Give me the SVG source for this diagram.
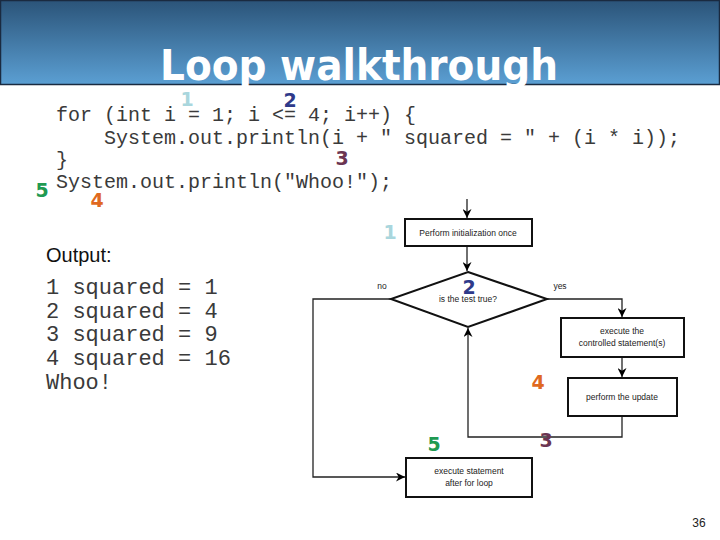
<svg xmlns="http://www.w3.org/2000/svg" width="720" height="540" viewBox="0 0 720 540">
<defs>
<linearGradient id="hdr" x1="0" y1="0" x2="0" y2="1">
<stop offset="0" stop-color="#2b5479"/>
<stop offset="1" stop-color="#5b9fd3"/>
</linearGradient>
<marker id="ah" viewBox="0 0 10 10" refX="10" refY="5" markerWidth="9" markerHeight="9" markerUnits="userSpaceOnUse" orient="auto">
<path d="M0,0 L10,5 L0,10 L3,5 Z" fill="#000"/>
</marker>
<style>
.code{font-family:"Liberation Mono","Courier New",monospace;font-size:20px;fill:#3a3a3a}
.out{font-family:"Liberation Mono","Courier New",monospace;font-size:22px;fill:#3a3a3a}
.num{font-family:"DejaVu Sans",Verdana,sans-serif;font-weight:bold;font-size:19px;text-anchor:middle}
.box{fill:#fff;stroke:#111;stroke-width:2}
.ft{font-family:"Liberation Sans",Arial,sans-serif;font-size:8.5px;fill:#222;text-anchor:middle}
.ln{fill:none;stroke:#222;stroke-width:1.3}
</style>
</defs>
<rect width="720" height="540" fill="#fff"/>
<g id="header">
<rect x="0.5" y="0.5" width="719" height="84" fill="url(#hdr)" stroke="#1a2a40" stroke-width="1.5"/>
<text x="359" y="80" font-family="'DejaVu Sans',Verdana,sans-serif" font-weight="bold" font-size="42" fill="#fff" text-anchor="middle" textLength="398" lengthAdjust="spacingAndGlyphs">Loop walkthrough</text>
</g>
<g id="code">
<text class="code" x="56" y="121" xml:space="preserve">for (int i = 1; i &lt;= 4; i++) {</text>
<text class="code" x="104" y="144" xml:space="preserve">System.out.println(i + " squared = " + (i * i));</text>
<text class="code" x="56" y="166">}</text>
<text class="code" x="56" y="188">System.out.println("Whoo!");</text>
<text class="num" x="187" y="106" fill="#a9d6dd">1</text>
<text class="num" x="290" y="107" fill="#2e3a8a">2</text>
<text class="num" x="342" y="165" fill="#6b3552">3</text>
<text class="num" x="42" y="197" fill="#1f9a52">5</text>
<text class="num" x="97" y="207" fill="#e0691f">4</text>
</g>
<g id="output">
<text x="46" y="262" font-family="'Liberation Sans',Arial,sans-serif" font-size="20" fill="#111">Output:</text>
<text class="out" x="46" y="294" xml:space="preserve">1 squared = 1</text>
<text class="out" x="46" y="318" xml:space="preserve">2 squared = 4</text>
<text class="out" x="46" y="341" xml:space="preserve">3 squared = 9</text>
<text class="out" x="46" y="365" xml:space="preserve">4 squared = 16</text>
<text class="out" x="46" y="389">Whoo!</text>
</g>
<g id="connectors">
<path class="ln" d="M467,199 V218" marker-end="url(#ah)"/>
<path class="ln" d="M467,246 V271" marker-end="url(#ah)"/>
<path class="ln" d="M391,299 H313 V477 H405" marker-end="url(#ah)"/>
<path class="ln" d="M547,299 H622 V317" marker-end="url(#ah)"/>
<path class="ln" d="M622,357 V377" marker-end="url(#ah)"/>
<path class="ln" d="M622,416 V437 H468 V328" marker-end="url(#ah)"/>
</g>
<g id="n1">
<rect class="box" x="405" y="219" width="127" height="27"/>
<text class="ft" x="468" y="235.5">Perform initialization once</text>
<text class="num" x="390" y="239" fill="#a9d6dd">1</text>
</g>
<g id="n2">
<polygon points="468,272 547,299 468,327 391,299" fill="#fff" stroke="#111" stroke-width="2"/>
<text class="ft" x="468" y="302">is the test true?</text>
<text class="num" x="469" y="294" fill="#2e3a8a">2</text>
<text class="ft" x="382" y="289">no</text>
<text class="ft" x="560" y="289">yes</text>
</g>
<g id="n3">
<rect class="box" x="561" y="318" width="123" height="39"/>
<text class="ft" x="622" y="334">execute the</text>
<text class="ft" x="622" y="346">controlled statement(s)</text>
</g>
<g id="n4">
<rect class="box" x="568" y="378" width="109" height="38"/>
<text class="ft" x="622" y="400">perform the update</text>
<text class="num" x="538" y="389" fill="#e0691f">4</text>
</g>
<g id="n5">
<rect class="box" x="406" y="458" width="126" height="39"/>
<text class="ft" x="469" y="474">execute statement</text>
<text class="ft" x="469" y="486">after for loop</text>
<text class="num" x="434" y="451" fill="#1f9a52">5</text>
<text class="num" x="546" y="447" fill="#6b3552">3</text>
</g>
<text x="699" y="527" font-family="'Liberation Sans',Arial,sans-serif" font-size="12" fill="#222" text-anchor="middle">36</text>
</svg>
